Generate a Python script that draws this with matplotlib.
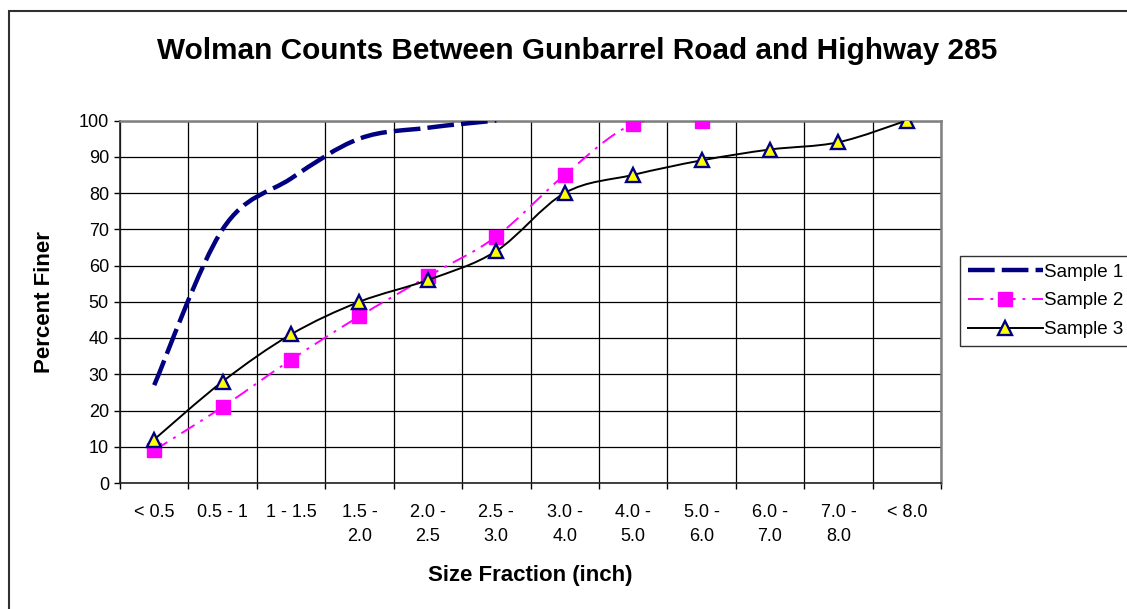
import numpy as np
import matplotlib
matplotlib.use("Agg")
import matplotlib.pyplot as plt
from matplotlib.path import Path
from matplotlib.patches import PathPatch, Rectangle
from matplotlib.lines import Line2D

plt.rcParams["font.family"] = ["Liberation Sans", "DejaVu Sans"]

size_classes = ["< 0.5", "0.5 - 1", "1 - 1.5", "1.5 -\n2.0", "2.0 -\n2.5",
                "2.5 -\n3.0", "3.0 -\n4.0", "4.0 -\n5.0", "5.0 -\n6.0",
                "6.0 -\n7.0", "7.0 -\n8.0", "< 8.0"]
sample1 = [27, 70, 84, 95, 98, 100]
sample2 = [9, 21, 34, 46, 57, 68, 85, 99, 100]
sample3 = [12, 28, 41, 50, 56, 64, 80, 85, 89, 92, 94, 100]

NAVY = "#000080"
MAGENTA = "#FF00FF"


def smooth_path(xs, ys):
    # spreadsheet-style smoothed line: cubic Bezier through every point
    pts = np.column_stack([xs, ys]).astype(float)
    ext = np.vstack([pts[0], pts, pts[-1]])
    verts = [pts[0]]
    codes = [Path.MOVETO]
    for i in range(len(pts) - 1):
        p0, p1, p2, p3 = ext[i], ext[i + 1], ext[i + 2], ext[i + 3]
        verts += [p1 + (p2 - p0) / 6, p2 - (p3 - p1) / 6, p2]
        codes += [Path.CURVE4] * 3
    return Path(verts, codes)


fig = plt.figure(figsize=(11.27, 6.09), dpi=100)
ax = fig.add_axes([120 / 1127, 126 / 609, 821 / 1127, 362.5 / 609])

x = np.arange(len(size_classes))

s1_style = dict(color=NAVY, lw=3.2, linestyle=(0, (6, 1.6)))
s2_style = dict(color=MAGENTA, lw=1.4, linestyle=(0, (8, 3.5, 1.5, 3.5)))
s3_style = dict(color="black", lw=1.4, linestyle="-")
sq = dict(marker="s", ms=9.5, mfc=MAGENTA, mec=MAGENTA)
tri = dict(marker="^", ms=10, mfc="#FFFF00", mec=NAVY, mew=1.7)

ax.add_patch(PathPatch(smooth_path(x[:len(sample1)], sample1), fill=False,
                       capstyle="butt", zorder=3, **s1_style))
ax.add_patch(PathPatch(smooth_path(x[:len(sample2)], sample2), fill=False,
                       zorder=4, **s2_style))
ax.plot(x[:len(sample2)], sample2, ls="none", zorder=5, **sq)
ax.add_patch(PathPatch(smooth_path(x, sample3), fill=False, zorder=6,
                       **s3_style))
ax.plot(x, sample3, ls="none", zorder=7, **tri)

ax.set_xlim(-0.5, len(size_classes) - 0.5)
ax.set_ylim(0, 100)
ax.set_yticks(range(0, 101, 10))
ax.set_xticks(np.arange(-0.5, len(size_classes)), [""] * (len(size_classes) + 1))
ax.set_xticks(x, size_classes, minor=True)
ax.tick_params(axis="x", which="major", direction="out", length=4, width=1)
ax.tick_params(axis="x", which="minor", length=0, pad=15, labelsize=13)
ax.tick_params(axis="y", direction="out", length=4, width=1, labelsize=13,
               pad=4)
for lab in ax.get_xticklabels(minor=True):
    lab.set_verticalalignment("top")
    lab.set_linespacing(1.55)

ax.grid(True, which="major", color="black", lw=0.9)
ax.set_axisbelow(True)
for side in ("top", "right"):
    ax.spines[side].set_color("#808080")
    ax.spines[side].set_linewidth(1.8)
for side in ("left", "bottom"):
    ax.spines[side].set_color("#202020")
    ax.spines[side].set_linewidth(1.2)

fig.text(577 / 1127, 1 - 51 / 609,
         "Wolman Counts Between Gunbarrel Road and Highway 285",
         ha="center", va="center", fontsize=21.4, fontweight="bold")
fig.text(45 / 1127, 1 - 302 / 609, "Percent Finer", rotation=90,
         ha="center", va="center", fontsize=16, fontweight="bold")
fig.text(530 / 1127, 1 - 575 / 609, "Size Fraction (inch)",
         ha="center", va="center", fontsize=16, fontweight="bold")

handles = [
    Line2D([], [], **s1_style),
    Line2D([], [], **sq, **s2_style),
    Line2D([], [], **tri, **s3_style),
]
leg = fig.legend(handles, ["Sample 1", "Sample 2", "Sample 3"],
                 loc="upper left", bbox_to_anchor=(960 / 1127, 1 - 256 / 609),
                 fontsize=13.5, frameon=True, fancybox=False, shadow=False,
                 edgecolor="black", handlelength=4.0, handletextpad=0.1,
                 borderpad=0.4, labelspacing=0.62, borderaxespad=0)
leg.get_frame().set_linewidth(1.0)

# outer chart border, running off the right and bottom edges
fig.patches.append(Rectangle((8.5 / 1127, -0.05), 1.2, 1.05 - 10.5 / 609,
                             transform=fig.transFigure, fill=False,
                             edgecolor="#303030", lw=1.5, clip_on=False))

fig.savefig("out.png", dpi=100)
